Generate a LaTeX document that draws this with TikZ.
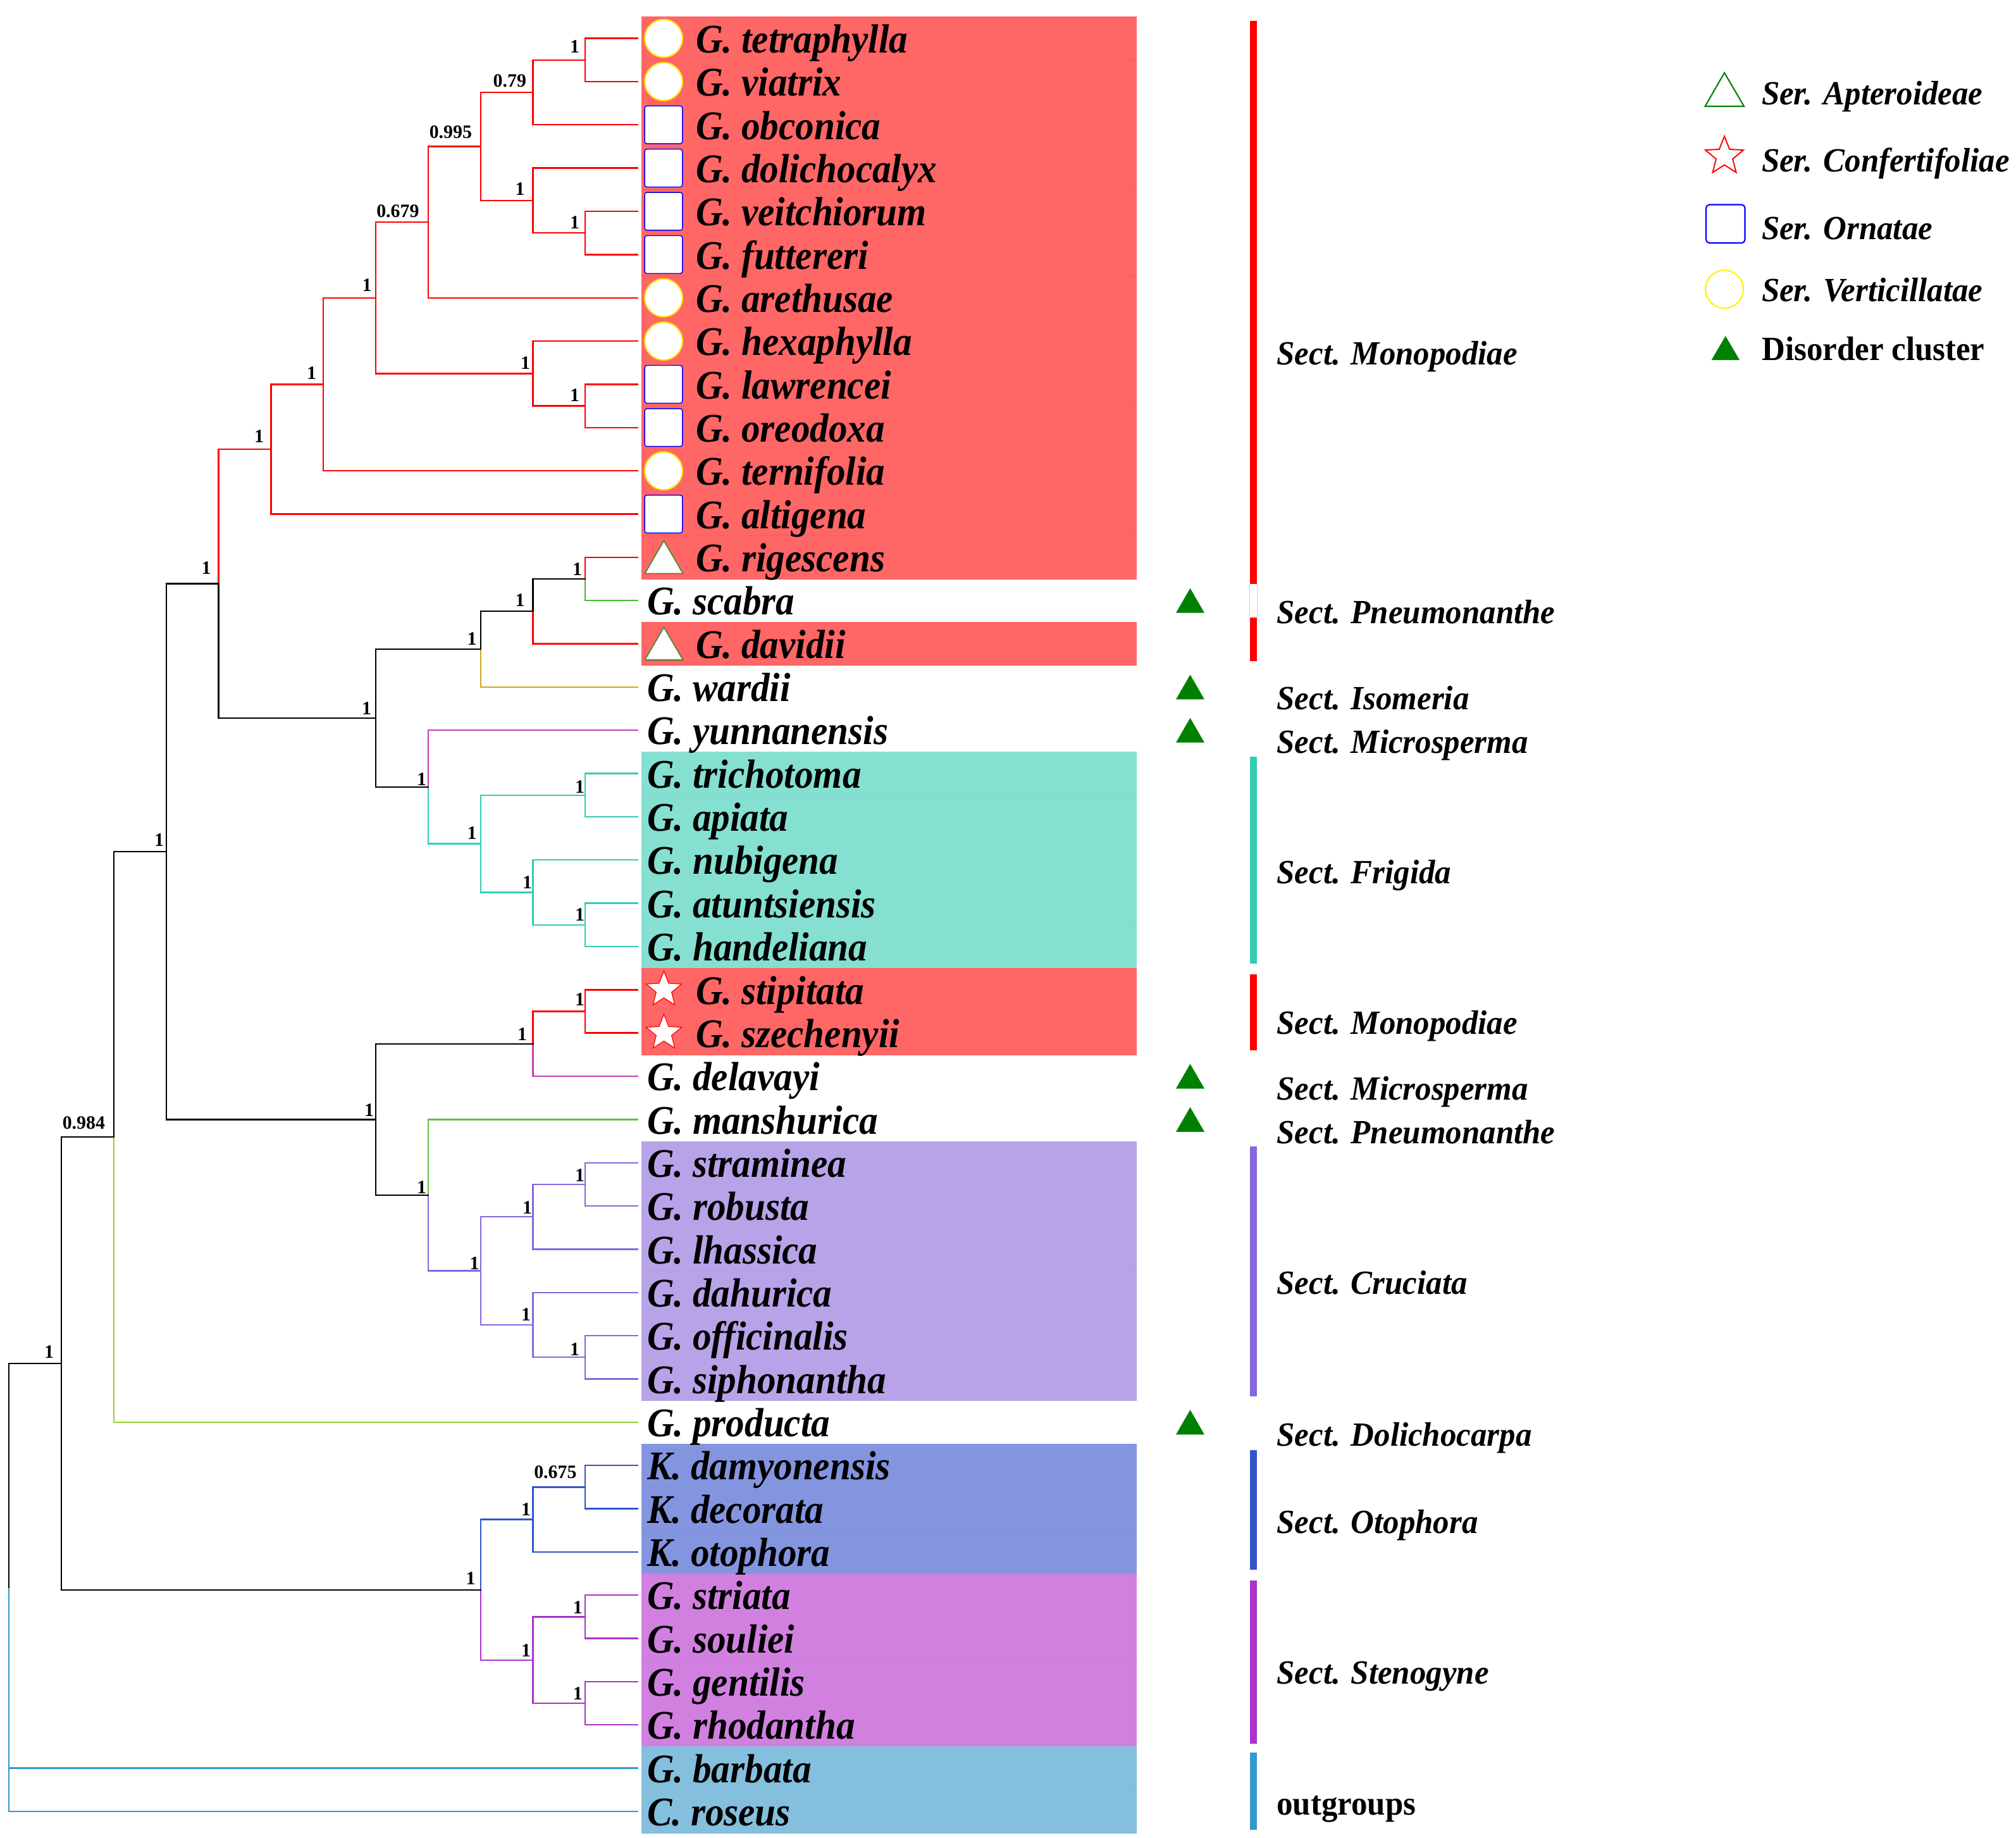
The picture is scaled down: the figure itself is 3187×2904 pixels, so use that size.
\documentclass[tikz,border=0pt]{standalone}
\usepackage{fontspec}
\setmainfont{Liberation Serif}
\newfontfamily\taxf[FakeStretch=0.92]{Liberation Serif}
\newfontfamily\sectf[FakeStretch=0.95]{Liberation Serif}
\usetikzlibrary{shapes.geometric}
\definecolor{bR}{HTML}{FF6666}
\definecolor{bT}{HTML}{85E0D1}
\definecolor{bP}{HTML}{B8A3E8}
\definecolor{bB}{HTML}{8495E0}
\definecolor{bM}{HTML}{D180E0}
\definecolor{bS}{HTML}{85BFDE}
\definecolor{cT}{HTML}{33CCB3}
\definecolor{cP}{HTML}{8866DD}
\definecolor{cB}{HTML}{3355CC}
\definecolor{cM}{HTML}{AA33CC}
\definecolor{cS}{HTML}{3399CC}
\definecolor{cG}{HTML}{44BB33}
\definecolor{cO}{HTML}{C8A820}
\definecolor{cK}{HTML}{C040B0}
\definecolor{cN}{HTML}{66BB44}
\definecolor{cY}{HTML}{99CC33}
\definecolor{mG}{HTML}{008000}
\definecolor{mT}{HTML}{3F8A2E}
\newcommand{\tn}[3]{\coordinate (#1) at (#2,{60.6+68.35*(#3)});}
\newcommand{\rowbg}[2]{\fill[#1] (1014,{26.4+68.35*(#2)}) rectangle (1797,{26.4+68.35*(#2+1)});
  \draw[#1!95!black,line width=0.35pt] (1014,{26.4+68.35*(#2+1)}) -- (1797,{26.4+68.35*(#2+1)});}
\newcommand{\spname}[3]{\node[taxon] (t#2) at (#1,{83.3+68.35*(#2)}) {#3};}
\newcommand{\sect}[3]{\node[sectlab] (#1) at (2018.5,#2) {#3};}
\newcommand{\bs}[3]{\node[bslab] at ({#1+1},#2) {#3};}
\tikzset{
  x=0.02cm,y=-0.02cm,
  branch/.style={line width=1.35pt,line cap=rect,line join=miter},
  taxon/.style={anchor=base west,inner sep=0,outer sep=0,font=\fontsize{36.6}{40}\taxf\bfseries\itshape},
  sectlab/.style={anchor=base west,inner sep=0,outer sep=0,font=\fontsize{30.5}{33}\sectf\bfseries\itshape},
  sectup/.style={anchor=base west,inner sep=0,outer sep=0,font=\fontsize{30.5}{33}\sectf\bfseries},
  bslab/.style={anchor=base east,inner sep=0,outer sep=0,font=\fontsize{17}{19}\selectfont\bfseries},
  mkcirc/.style={circle,draw=yellow!90!orange,fill=white,line width=1.2pt,minimum size=34pt,inner sep=0},
  mksq/.style={rectangle,rounded corners=2pt,draw=blue,fill=white,line width=0.8pt,minimum size=34pt,inner sep=0},
  mkstar/.style={star,star points=5,star point ratio=2.3,fill=white,draw=red,line width=0.7pt,minimum size=33.5pt,inner sep=0},
}
\begin{document}
\begin{tikzpicture}
\useasboundingbox (0,0) rectangle (3187,2904);
% backgrounds
\foreach \r in {0,...,12,14}{\rowbg{bR}{\r}}
\foreach \r in {17,...,21}{\rowbg{bT}{\r}}
\foreach \r in {22,23}{\rowbg{bR}{\r}}
\foreach \r in {26,...,31}{\rowbg{bP}{\r}}
\foreach \r in {33,34,35}{\rowbg{bB}{\r}}
\foreach \r in {36,...,39}{\rowbg{bM}{\r}}
\foreach \r in {40,41}{\rowbg{bS}{\r}}
% leaves
\foreach \r in {0,...,41}{\tn{l\r}{1008}{\r}}
% internal
\tn{a1}{925.3}{0.5}\tn{a2}{842.5}{1.25}\tn{a3}{925.3}{4.5}\tn{a4}{842.5}{3.75}
\tn{a5}{760}{2.5}\tn{a6}{677}{4.25}\tn{a7}{925.3}{8.5}\tn{a8}{842.5}{7.75}
\tn{a9}{594}{6}\tn{a10}{511}{8}\tn{a11}{428.5}{9.5}
\tn{p1}{925.3}{12.5}\tn{p2}{842.5}{13.25}\tn{p3}{760}{14.125}
\tn{f1}{925.3}{17.5}\tn{f2}{925.3}{20.5}\tn{f3}{842.5}{19.75}\tn{f4}{760}{18.625}\tn{f5}{677}{17.3125}
\tn{u1}{594}{15.71875}\tn{u2}{345.6}{12.609}
\tn{m1}{925.3}{22.5}\tn{m2}{842.5}{23.25}
\tn{c1}{925.3}{26.5}\tn{c2}{842.5}{27.25}\tn{c3}{925.3}{30.5}\tn{c4}{842.5}{29.75}\tn{c5}{760}{28.5}\tn{c6}{677}{26.75}
\tn{v1}{594}{25}\tn{v2}{263}{18.805}\tn{v3}{180}{25.40}
\tn{k1}{925.3}{33.5}\tn{k2}{842.5}{34.25}\tn{s1}{925.3}{36.5}\tn{s2}{925.3}{38.5}\tn{s3}{842.5}{37.5}\tn{k3}{760}{35.875}
\tn{w1}{97}{30.64}\tn{root}{14}{35.82}
% monopodiae
\begin{scope}[branch,draw=red]
\draw (a1)|-(l0) (a1)|-(l1) (a2)|-(a1) (a2)|-(l2);
\draw (a3)|-(l4) (a3)|-(l5) (a4)|-(l3) (a4)|-(a3);
\draw (a5)|-(a2) (a5)|-(a4) (a6)|-(a5) (a6)|-(l6);
\draw (a7)|-(l8) (a7)|-(l9) (a8)|-(l7) (a8)|-(a7);
\draw (a9)|-(a6) (a9)|-(a8) (a10)|-(a9) (a10)|-(l10);
\draw (a11)|-(a10) (a11)|-(l11) (u2)|-(a11);
\draw (p1)|-(l12) (p2)|-(l14) (m1)|-(l22) (m1)|-(l23) (m2)|-(m1);
\end{scope}
\draw[branch,cG] (p1)|-(l13);
\draw[branch,cO] (p3)|-(l15);
\draw[branch,cK] (f5)|-(l16);
\draw[branch,cK] (m2)|-(l24);
\draw[branch,cN] (c6)|-(l25);
\draw[branch,cY] (v3)|-(l32);
\begin{scope}[branch,draw=cT]
\draw (f1)|-(l17) (f1)|-(l18) (f2)|-(l20) (f2)|-(l21) (f3)|-(l19) (f3)|-(f2) (f4)|-(f1) (f4)|-(f3) (f5)|-(f4);
\end{scope}
\begin{scope}[branch,draw=cP]
\draw (c1)|-(l26) (c1)|-(l27) (c2)|-(c1) (c2)|-(l28) (c3)|-(l30) (c3)|-(l31) (c4)|-(l29) (c4)|-(c3) (c5)|-(c2) (c5)|-(c4) (c6)|-(c5);
\end{scope}
\begin{scope}[branch,draw=cB]
\draw (k1)|-(l33) (k1)|-(l34) (k2)|-(k1) (k2)|-(l35) (k3)|-(k2);
\end{scope}
\begin{scope}[branch,draw=cM]
\draw (s1)|-(l36) (s1)|-(l37) (s2)|-(l38) (s2)|-(l39) (s3)|-(s1) (s3)|-(s2) (k3)|-(s3);
\end{scope}
\begin{scope}[branch,draw=cS]
\draw (root)|-(l40) (root)|-(l41);
\end{scope}
\begin{scope}[branch,draw=black]
\draw (p2)|-(p1) (p3)|-(p2) (u1)|-(p3) (u1)|-(f5) (u2)|-(u1);
\draw (v1)|-(m2) (v1)|-(c6) (v2)|-(u2) (v2)|-(v1) (v3)|-(v2) (w1)|-(v3) (w1)|-(k3) (root)|-(w1);
\end{scope}
% markers
\foreach \r in {0,1,6,7,10}{\node[mkcirc] (mk\r) at (1049,{60.6+68.35*\r}) {};}
\foreach \r in {2,3,4,5,8,9,11}{\node[mksq] (mk\r) at (1049,{60.6+68.35*\r}) {};}
\foreach \r in {12,14}{\fill[white,draw=mT,line width=0.9pt,line join=miter] (1019.5,{60.6+68.35*\r+25.5}) -- (1079.5,{60.6+68.35*\r+25.5}) -- (1049.5,{60.6+68.35*\r-26}) -- cycle;}
\foreach \r in {22,23}{\node[mkstar] (mk\r) at (1049.5,{60.6+68.35*\r}) {};}
% disorder triangles
\foreach \r in {13,15,16,24,25,32}{\fill[mG] (1859,{60.6+68.35*\r+19.5}) -- (1904,{60.6+68.35*\r+19.5}) -- (1881.5,{60.6+68.35*\r-19.5}) -- cycle;}
% taxa
\spname{1100}{0}{G. tetraphylla}
\spname{1100}{1}{G. viatrix}
\spname{1100}{2}{G. obconica}
\spname{1100}{3}{G. dolichocalyx}
\spname{1100}{4}{G. veitchiorum}
\spname{1100}{5}{G. futtereri}
\spname{1100}{6}{G. arethusae}
\spname{1100}{7}{G. hexaphylla}
\spname{1100}{8}{G. lawrencei}
\spname{1100}{9}{G. oreodoxa}
\spname{1100}{10}{G. ternifolia}
\spname{1100}{11}{G. altigena}
\spname{1100}{12}{G. rigescens}
\spname{1023}{13}{G. scabra}
\spname{1100}{14}{G. davidii}
\spname{1023}{15}{G. wardii}
\spname{1023}{16}{G. yunnanensis}
\spname{1023}{17}{G. trichotoma}
\spname{1023}{18}{G. apiata}
\spname{1023}{19}{G. nubigena}
\spname{1023}{20}{G. atuntsiensis}
\spname{1023}{21}{G. handeliana}
\spname{1100}{22}{G. stipitata}
\spname{1100}{23}{G. szechenyii}
\spname{1023}{24}{G. delavayi}
\spname{1023}{25}{G. manshurica}
\spname{1023}{26}{G. straminea}
\spname{1023}{27}{G. robusta}
\spname{1023}{28}{G. lhassica}
\spname{1023}{29}{G. dahurica}
\spname{1023}{30}{G. officinalis}
\spname{1023}{31}{G. siphonantha}
\spname{1023}{32}{G. producta}
\spname{1023}{33}{K. damyonensis}
\spname{1023}{34}{K. decorata}
\spname{1023}{35}{K. otophora}
\spname{1023}{36}{G. striata}
\spname{1023}{37}{G. souliei}
\spname{1023}{38}{G. gentilis}
\spname{1023}{39}{G. rhodantha}
\spname{1023}{40}{G. barbata}
\spname{1023}{41}{C. roseus}
% support values
\bs{915}{83}{1}\bs{831}{137.8}{0.79}\bs{745}{218.7}{0.995}\bs{828.5}{308.7}{1}\bs{915}{361}{1}
\bs{661.5}{343.7}{0.679}\bs{586.5}{460}{1}\bs{837}{583.5}{1}\bs{915}{634.6}{1}\bs{499}{599.5}{1}
\bs{416}{699}{1}\bs{332.5}{907.5}{1}\bs{919}{909}{1}\bs{828.5}{958.5}{1}\bs{752.5}{1019.5}{1}
\bs{586}{1129}{1}\bs{673}{1241}{1}\bs{752.5}{1326.5}{1}\bs{923}{1253}{1}\bs{840}{1404}{1}\bs{923}{1455}{1}
\bs{258}{1337}{1}\bs{165}{1784}{0.984}\bs{923}{1589}{1}\bs{832}{1644}{1}\bs{590}{1764}{1}\bs{673}{1886}{1}
\bs{923}{1867.5}{1}\bs{840}{1918.5}{1}\bs{756.5}{2006}{1}\bs{838}{2087.7}{1}\bs{915}{2142}{1}\bs{84}{2146}{1}
\bs{910.5}{2336}{0.675}\bs{838}{2395}{1}\bs{750.6}{2504.6}{1}\bs{919.7}{2550.7}{1}\bs{838}{2618}{1}\bs{919.7}{2686}{1}
% section bars
\fill[red] (1975.5,33) rectangle (1987,923);
\fill[red] (1975.5,976) rectangle (1987,1045);
\draw[red!25,line width=0.3pt] (1975.5,923) -- (1975.5,976) (1987,923) -- (1987,976);
\fill[cT] (1975.5,1196) rectangle (1987,1523);
\fill[red] (1975.5,1540) rectangle (1987,1660);
\fill[cP] (1975.5,1812) rectangle (1987,2207);
\fill[cB] (1975.5,2292) rectangle (1987,2481);
\fill[cM] (1975.5,2498) rectangle (1987,2756);
\fill[cS] (1975.5,2770) rectangle (1987,2892);
% section labels
\sect{sa}{576}{Sect. Monopodiae}
\sect{sb}{985}{Sect. Pneumonanthe}
\sect{sc}{1121.5}{Sect. Isomeria}
\sect{sd}{1190}{Sect. Microsperma}
\sect{se}{1396}{Sect. Frigida}
\sect{sf}{1634}{Sect. Monopodiae}
\sect{sg}{1738}{Sect. Microsperma}
\sect{sh}{1807}{Sect. Pneumonanthe}
\sect{si}{2045}{Sect. Cruciata}
\sect{sj}{2285}{Sect. Dolichocarpa}
\sect{sk}{2423}{Sect. Otophora}
\sect{sl}{2661}{Sect. Stenogyne}
\node[sectup] (sm) at (2018.5,2868) {outgroups};
% legend
\draw[mG,line width=1.2pt,line join=miter,fill=white] (2695.5,168) -- (2757,168) -- (2726,115) -- cycle;
\node[star,star points=5,star point ratio=2.3,draw=red,fill=white,line width=1.1pt,minimum size=36pt,inner sep=0] (lstar) at (2726,247) {};
\draw[blue,line width=1.2pt,rounded corners=3pt,fill=white] (2697,323.5) rectangle (2758.5,384);
\node[circle,draw=yellow,fill=white,line width=1.2pt,minimum size=34pt,inner sep=0] (lcirc) at (2726,457) {};
\fill[mG] (2705.6,569) -- (2750,569) -- (2727.8,531) -- cycle;
\node[sectlab] (la) at (2785,165) {Ser. Apteroideae};
\node[sectlab] (lb) at (2785,271) {Ser. Confertifoliae};
\node[sectlab] (lc) at (2785,378.6) {Ser. Ornatae};
\node[sectlab] (ld) at (2785,476) {Ser. Verticillatae};
\node[sectup] (le) at (2785.5,569) {Disorder cluster};
\end{tikzpicture}
\end{document}
